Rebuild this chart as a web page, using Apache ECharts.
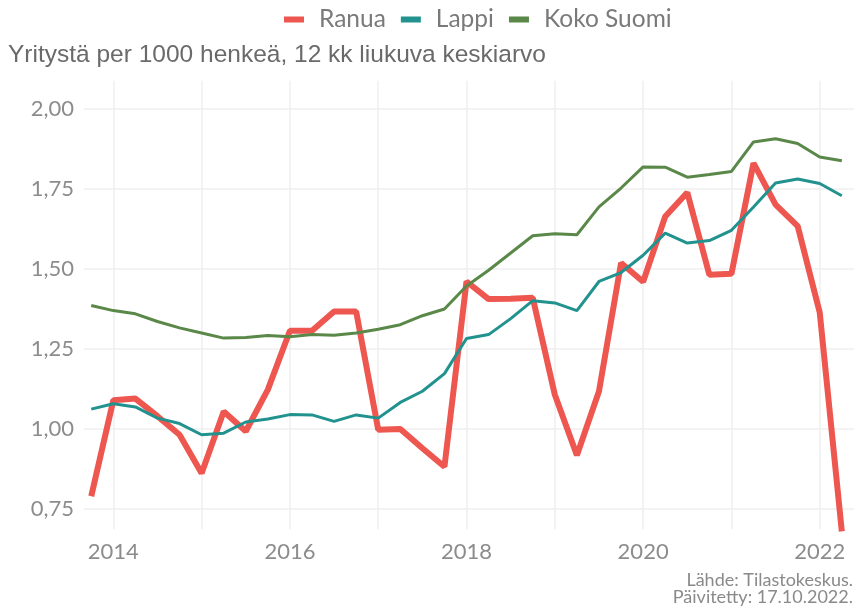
<!DOCTYPE html>
<html>
<head>
<meta charset="utf-8">
<script src="https://cdn.jsdelivr.net/npm/echarts@6/dist/echarts.min.js"></script>
<style>
html,body{margin:0;padding:0;background:#fff;}
#chart{width:854px;height:609px;}
</style>
</head>
<body>
<div id="chart"></div>
<script>
const quarters = ['2013Q4',
  '2014Q1','2014Q2','2014Q3','2014Q4',
  '2015Q1','2015Q2','2015Q3','2015Q4',
  '2016Q1','2016Q2','2016Q3','2016Q4',
  '2017Q1','2017Q2','2017Q3','2017Q4',
  '2018Q1','2018Q2','2018Q3','2018Q4',
  '2019Q1','2019Q2','2019Q3','2019Q4',
  '2020Q1','2020Q2','2020Q3','2020Q4',
  '2021Q1','2021Q2','2021Q3','2021Q4',
  '2022Q1','2022Q2'];

const ranua = [0.790,
  1.090,1.095,1.040,0.982,
  0.862,1.055,0.993,1.123,
  1.307,1.307,1.367,1.367,
  0.998,1.000,0.940,0.882,
  1.461,1.406,1.407,1.410,
  1.107,0.918,1.118,1.519,
  1.460,1.664,1.739,1.482,
  1.485,1.831,1.701,1.634,
  1.364,0.680];

const lappi = [1.062,
  1.079,1.069,1.034,1.017,
  0.982,0.987,1.022,1.031,
  1.045,1.044,1.024,1.044,
  1.034,1.083,1.118,1.173,
  1.283,1.295,1.345,1.401,
  1.394,1.370,1.461,1.489,
  1.543,1.612,1.581,1.589,
  1.621,1.694,1.769,1.781,
  1.767,1.729];

const kokoSuomi = [1.386,
  1.370,1.360,1.336,1.316,
  1.300,1.284,1.286,1.292,
  1.288,1.295,1.293,1.300,
  1.312,1.326,1.354,1.375,
  1.447,1.496,1.550,1.604,
  1.610,1.607,1.694,1.753,
  1.819,1.818,1.787,1.795,
  1.805,1.897,1.907,1.892,
  1.850,1.838];

const yearGrid = [2014,2015,2016,2017,2018,2019,2020,2021,2022];
const xLabels = [2014,2016,2018,2020,2022];
const yTicks = [0.75,1.00,1.25,1.50,1.75,2.00];

const seriesNames = ['Ranua','Lappi','Koko Suomi'];
const colors = ['#EE5650','#21928E','#5A8849'];
const subtitleText = 'Yritystä per 1000 henkeä, 12 kk liukuva keskiarvo';
const captionText = 'Lähde: Tilastokeskus.\nPäivitetty: 17.10.2022.';

// quarter label -> decimal year (start of quarter, as in the reference axis)
function qToYear(q){
  const y = parseInt(q.slice(0,4),10);
  const n = parseInt(q.slice(5),10);
  return y + (n-1)/4;
}
function pairs(vals){ return quarters.map((q,i)=>[qToYear(q), vals[i]]); }

const chart = echarts.init(document.getElementById('chart'), null, {renderer:'canvas'});
const FONT = 'Lato';
const option = {
  backgroundColor:'#ffffff',
  animation:false,
  title:{text:subtitleText, left:3, top:38,
     textStyle:{fontFamily:'Liberation Sans', fontSize:24.5, fontWeight:'normal', color:'#6a6a6a'}},
  graphic:[{
    type:'text', x:853, y:606,
    style:{text:captionText, align:'right', verticalAlign:'bottom', fontFamily:FONT, fontSize:18, lineHeight:17, fill:'#8a8a8a'}
  }],
  legend:{
    data:seriesNames, top:2, left:279, icon:'rect', itemWidth:20, itemHeight:6, itemGap:15,
    textStyle:{fontFamily:FONT, fontSize:24.5, color:'#7a7a7a', padding:[0,0,0,10]}
  },
  grid:{left:84, right:0, top:80.7, bottom:79.7, containLabel:false},
  xAxis:{
    type:'value', min:2013.668, max:2022.388,
    axisLine:{show:false},
    axisTick:{show:false, customValues:yearGrid},
    axisLabel:{customValues:xLabels, fontFamily:FONT, fontSize:22, color:'#8c8c8c', margin:12,
      formatter:v=>String(Math.round(v))},
    splitLine:{show:true, lineStyle:{color:'#efefef', width:1.5}}
  },
  yAxis:{
    type:'value', min:0.6866, max:2.0884,
    axisLine:{show:false},
    axisTick:{show:false, customValues:yTicks},
    axisLabel:{customValues:yTicks, fontFamily:FONT, fontSize:22, color:'#8c8c8c', margin:10,
      formatter:v=>v.toFixed(2).replace('.',',')},
    splitLine:{show:true, lineStyle:{color:'#efefef', width:1.5}}
  },
  series:[
    {name:seriesNames[0], type:'line', data:pairs(ranua), showSymbol:false, color:colors[0],
     lineStyle:{width:6, color:colors[0]}, clip:true},
    {name:seriesNames[1], type:'line', data:pairs(lappi), showSymbol:false, color:colors[1],
     lineStyle:{width:3, color:colors[1]}},
    {name:seriesNames[2], type:'line', data:pairs(kokoSuomi), showSymbol:false, color:colors[2],
     lineStyle:{width:3, color:colors[2]}}
  ]
};
chart.setOption(option);
</script>
</body>
</html>
